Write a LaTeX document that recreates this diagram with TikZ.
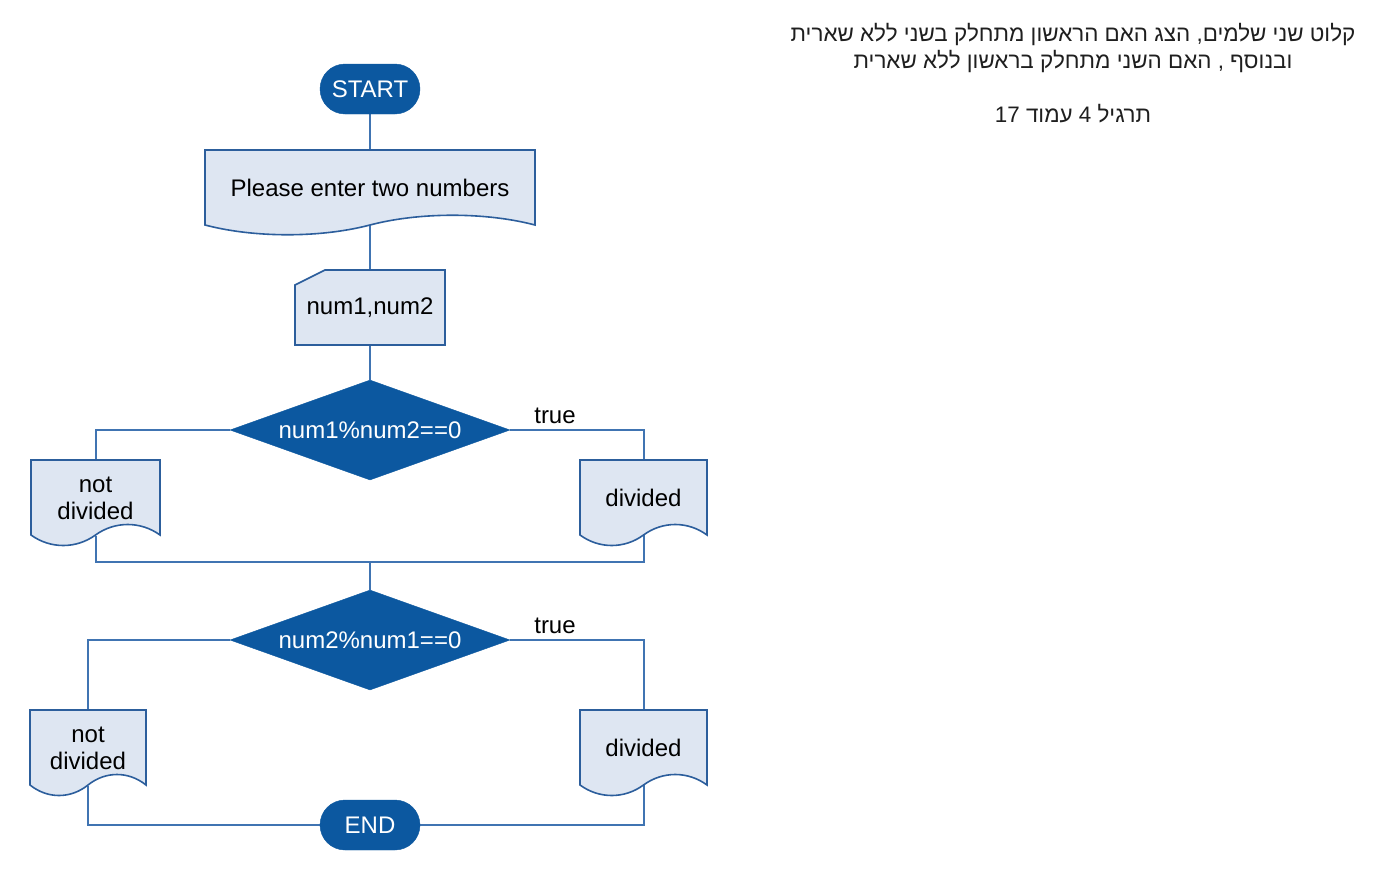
\documentclass[tikz,border=0pt]{standalone}
\usepackage{fontspec}
\setmainfont{Liberation Sans}
\newfontfamily\hebfont[Script=Hebrew]{Liberation Sans}
\TeXXeTstate=1
\usetikzlibrary{shapes.geometric}
\pgfdeclarelayer{bg}
\pgfsetlayers{bg,main}
\definecolor{darkfill}{RGB}{12,88,160}
\definecolor{lightfill}{RGB}{222,230,242}
\definecolor{strokeblue}{RGB}{44,94,156}
\definecolor{linkblue}{RGB}{64,116,178}
\tikzset{
  term/.style={draw=darkfill, fill=darkfill, rounded corners=25pt, minimum width=100pt, minimum height=50pt, text=white, inner sep=0pt, font=\fontsize{24}{27}\selectfont},
  decision/.style={diamond, shape aspect=2.8, draw=darkfill, fill=darkfill, minimum width=280pt, minimum height=100pt, inner sep=0pt, text=white, font=\fontsize{24}{27}\selectfont},
  docbg/.style={draw=strokeblue, fill=lightfill, line width=1.6pt},
  lbl/.style={inner sep=0pt, align=center, text=black, font=\fontsize{24}{27}\selectfont},
  link/.style={draw=linkblue, line width=2pt},
}
\newcommand\flowdoc[5]{%
  \pgfmathsetmacro\fdw{#3-#1}%
  \pgfmathsetmacro\fdm{(#1+#3)/2}%
  \filldraw[docbg] (#1,#2) -- (#3,#2) -- (#3,#4)
    .. controls ({#3-0.15*\fdw},{#4-#5}) and ({#3-0.35*\fdw},{#4-#5}) .. (\fdm,#4)
    .. controls ({#1+0.35*\fdw},{#4+#5}) and ({#1+0.15*\fdw},{#4+#5}) .. (#1,#4) -- cycle;
}
\begin{document}
\begin{tikzpicture}[x=1pt,y=-1pt]
\useasboundingbox (0,0) rectangle (1398,870);
\begin{pgfonlayer}{bg}
  \fill[white] (0,0) rectangle (1398,870);
\end{pgfonlayer}

\node[term] (start) at (370,89) {START};

\flowdoc{205}{150}{535}{225}{13}
\node[lbl, minimum width=330pt, minimum height=75pt] (please) at (370,187.5) {Please enter two numbers};

\filldraw[docbg] (295,285) -- (325,270) -- (445,270) -- (445,345) -- (295,345) -- cycle;
\node[lbl, minimum width=150pt, minimum height=75pt] (input) at (370,307.5) {num1,num2};

\node[decision] (dec1) at (370,430) {num1\%num2==0};

\flowdoc{31}{460}{160}{535}{14}
\node[lbl, minimum width=129pt, minimum height=75pt] (nd1) at (95.5,498) {not\\divided};

\flowdoc{580}{460}{707}{535}{14}
\node[lbl, minimum width=127pt, minimum height=75pt] (dv1) at (643.5,497.5) {divided};

\coordinate (join) at (370,562);

\node[decision] (dec2) at (370,640) {num2\%num1==0};

\flowdoc{30}{710}{146}{785}{14}
\node[lbl, minimum width=116pt, minimum height=75pt] (nd2) at (88,748) {not\\divided};

\flowdoc{580}{710}{707}{785}{14}
\node[lbl, minimum width=127pt, minimum height=75pt] (dv2) at (643.5,747.5) {divided};

\node[term] (end) at (370,825) {END};

\node[lbl] (true1) at (555,416) {true};
\node[lbl] (true2) at (555,626) {true};

\node[inner sep=0pt, align=center, text=black!88, font=\hebfont\fontsize{22.4}{27}\selectfont] (title) at (1073,73)
  {\beginR קלוט שני שלמים, הצג האם הראשון מתחלק בשני ללא שארית\endR\\
   \beginR ובנוסף , האם השני מתחלק בראשון ללא שארית\endR\\[27pt]
   \beginR תרגיל 4 עמוד \beginL 17\endL\endR};

\begin{pgfonlayer}{bg}
  \draw[link] (start.south) -- (please.north);
  \draw[link] (please.south) -- (input.north);
  \draw[link] (input.south) -- (dec1.north);
  \draw[link] (dec1.west) -| (nd1.north);
  \draw[link] (dec1.east) -| (dv1.north);
  \draw[link] (nd1.south) |- (join) -| (dv1.south);
  \draw[link] (join) -- (dec2.north);
  \draw[link] (dec2.west) -| (nd2.north);
  \draw[link] (dec2.east) -| (dv2.north);
  \draw[link] (nd2.south) |- (end.west);
  \draw[link] (dv2.south) |- (end.east);
\end{pgfonlayer}
\end{tikzpicture}
\end{document}
